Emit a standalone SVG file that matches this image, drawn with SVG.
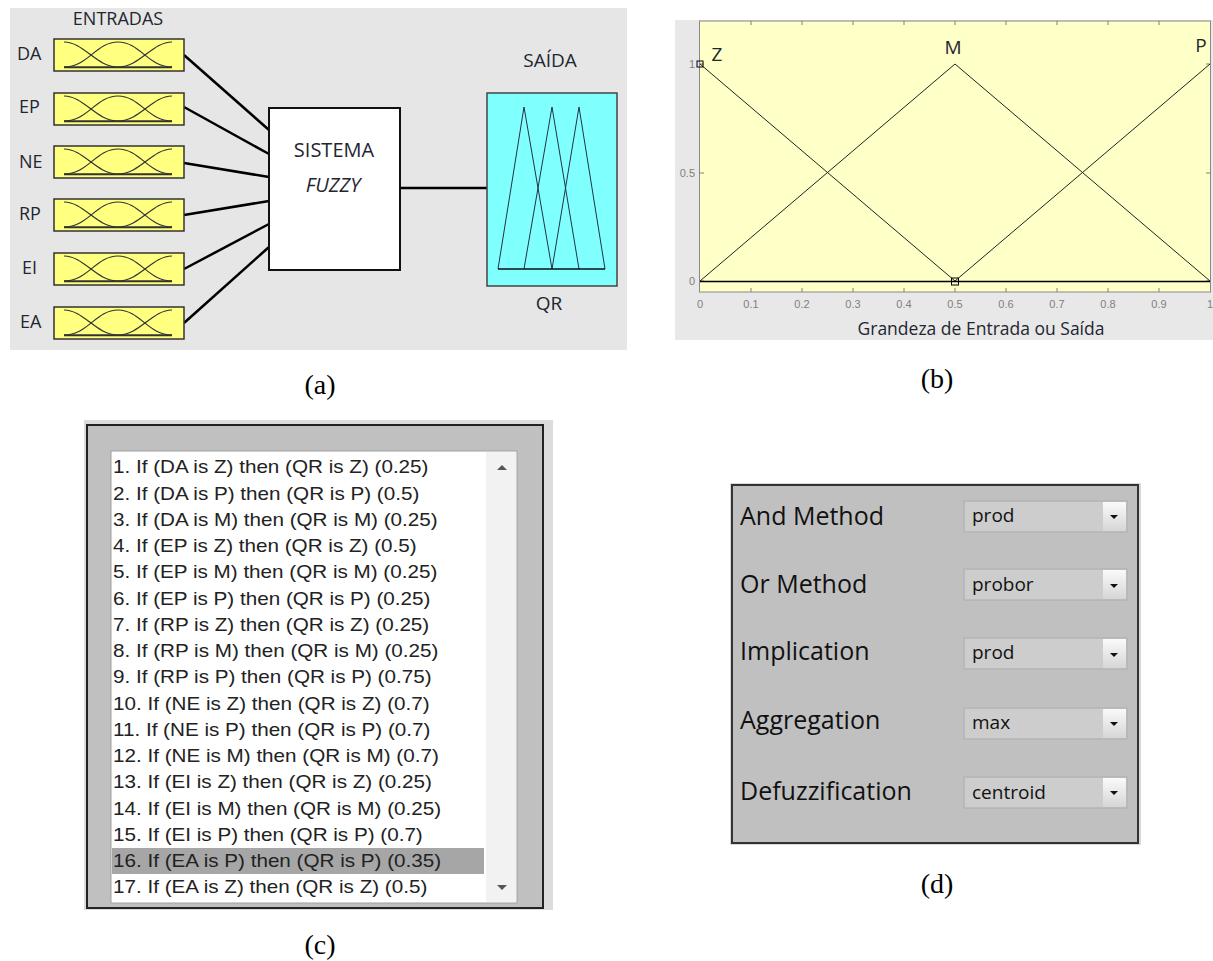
<svg xmlns="http://www.w3.org/2000/svg" xmlns:xlink="http://www.w3.org/1999/xlink" width="1213" height="961" viewBox="0 0 1213 961">
<style>
.cal{font-family:"Open Sans","Liberation Sans",sans-serif;fill:#1e2630}
.ari{font-family:"Liberation Sans",Arial,sans-serif}
.cap{font-family:"Liberation Serif","Times New Roman",serif;font-size:28px;fill:#000;text-anchor:middle}
.inbox{fill:#ffff80;stroke:#333;stroke-width:1.5}
.mf{fill:none;stroke:#333;stroke-width:1.2}
.conn{stroke:#000;stroke-width:2.5;fill:none}
.tick{stroke:#808080;stroke-width:1}
.tl{font-family:"Liberation Sans",Arial,sans-serif;font-size:11px;fill:#808080}
.rule{font-family:"Liberation Sans",Arial,sans-serif;font-size:18px;fill:#222}
.dd{fill:#cdcdcd;stroke:#b4b4b4;stroke-width:1.5}
.ddb{fill:url(#btn)}
.lab{font-family:"Open Sans","Liberation Sans",sans-serif;font-size:25px;fill:#111}
.val{font-family:"Open Sans","Liberation Sans",sans-serif;font-size:19px;fill:#111}
</style>
<defs>
<linearGradient id="btn" x1="0" y1="0" x2="0" y2="1">
<stop offset="0" stop-color="#fafafa"/>
<stop offset="1" stop-color="#d6d6d6"/>
</linearGradient>
<g id="inbox">
<rect class="inbox" x="0" y="0" width="130" height="32"/>
<path class="mf" d="M10,3 C30,3 42,28 64,28"/>
<path class="mf" d="M10,28 C34,28 42,3 64,3 C86,3 94,28 118,28"/>
<path class="mf" d="M64,28 C86,28 98,3 118,3"/>
<path d="M10,28.3 H118" stroke="#333" stroke-width="2"/>
</g>
<path id="darr" d="M-4,-2 H4 L0,2 Z" fill="#111"/>
</defs>

<!-- Panel (a) -->
<rect x="10" y="8" width="617" height="342" fill="#e6e6e6"/>
<text class="cal" x="118" y="25" font-size="18" text-anchor="middle">ENTRADAS</text>

<g id="connectors">
<line class="conn" x1="184" y1="55" x2="269" y2="130"/>
<line class="conn" x1="184" y1="107" x2="269" y2="154"/>
<line class="conn" x1="184" y1="163" x2="269" y2="177"/>
<line class="conn" x1="184" y1="215" x2="269" y2="201"/>
<line class="conn" x1="184" y1="269" x2="269" y2="224"/>
<line class="conn" x1="184" y1="323" x2="269" y2="247"/>
<line class="conn" x1="400" y1="188" x2="487" y2="188"/>
</g>

<g id="node-DA"><use xlink:href="#inbox" x="54" y="39"/><text class="cal" x="17" y="60" font-size="18">DA</text></g>
<g id="node-EP"><use xlink:href="#inbox" x="54" y="93"/><text class="cal" x="19" y="113" font-size="18">EP</text></g>
<g id="node-NE"><use xlink:href="#inbox" x="54" y="146"/><text class="cal" x="19" y="168" font-size="18">NE</text></g>
<g id="node-RP"><use xlink:href="#inbox" x="54" y="199"/><text class="cal" x="19" y="220" font-size="18">RP</text></g>
<g id="node-EI"><use xlink:href="#inbox" x="54" y="253"/><text class="cal" x="22" y="274" font-size="18">EI</text></g>
<g id="node-EA"><use xlink:href="#inbox" x="54" y="307"/><text class="cal" x="20" y="328" font-size="18">EA</text></g>

<g id="node-sistema">
<rect x="269" y="108" width="131" height="162" fill="#fff" stroke="#111" stroke-width="2"/>
<text class="cal" x="334" y="157" font-size="20" text-anchor="middle">SISTEMA</text>
<text class="cal" x="333" y="192" font-size="20" font-style="italic" text-anchor="middle">FUZZY</text>
</g>

<g id="node-QR">
<text class="cal" x="550" y="67" font-size="19" text-anchor="middle">SAÍDA</text>
<rect x="487" y="93" width="130" height="193" fill="#80ffff" stroke="#444" stroke-width="1.5"/>
<path d="M498,269 L524,107 L552,269 M524,269 L552,107 L579,269 M552,269 L579,107 L605,269" fill="none" stroke="#234" stroke-width="1"/>
<path d="M498,269 H605" stroke="#111" stroke-width="1.5"/>
<text class="cal" x="549" y="310" font-size="19" text-anchor="middle">QR</text>
</g>
<text class="cap" x="320" y="394">(a)</text>

<!-- Panel (b) -->
<g id="plot-b">
<rect x="675" y="20" width="538" height="320" fill="#e8e8e8"/>
<rect x="699.5" y="21" width="511" height="271" fill="#ffffc8" stroke="#888" stroke-width="1"/>
<g class="tick">
<path d="M751,21v4M802,21v4M853,21v4M904,21v4M955,21v4M1006,21v4M1057,21v4M1108,21v4M1159,21v4"/>
<path d="M751,292v-4M802,292v-4M853,292v-4M904,292v-4M955,292v-4M1006,292v-4M1057,292v-4M1108,292v-4M1159,292v-4"/>
<path d="M700,64h4M700,173h4M700,281h4M1210,64h-4M1210,173h-4M1210,281h-4"/>
</g>
<g class="tl" text-anchor="middle">
<text x="700" y="308">0</text><text x="751" y="308">0.1</text><text x="802" y="308">0.2</text><text x="853" y="308">0.3</text><text x="904" y="308">0.4</text><text x="955" y="308">0.5</text><text x="1006" y="308">0.6</text><text x="1057" y="308">0.7</text><text x="1108" y="308">0.8</text><text x="1159" y="308">0.9</text><text x="1210" y="308">1</text>
</g>
<g class="tl" text-anchor="end">
<text x="695" y="68">1</text><text x="695" y="177">0.5</text><text x="695" y="285">0</text>
</g>
<path d="M700,64 L955,281 M700,281 L955,64 L1210,281 M955,281 L1210,64" fill="none" stroke="#222" stroke-width="1"/>
<path d="M700,281.5 H1210" stroke="#000" stroke-width="1.5"/>
<rect x="697" y="61" width="6" height="6" fill="none" stroke="#000" stroke-width="1"/>
<rect x="951.5" y="278" width="7" height="7" fill="none" stroke="#000" stroke-width="1"/>
<text class="cal" x="717" y="61" font-size="19" text-anchor="middle">Z</text>
<text class="cal" x="953" y="54" font-size="19" text-anchor="middle">M</text>
<text class="cal" x="1201" y="52" font-size="19" text-anchor="middle">P</text>
<text class="cal" x="981" y="335" font-size="17.5" text-anchor="middle">Grandeza de Entrada ou Saída</text>
</g>
<text class="cap" x="937" y="388">(b)</text>

<!-- Panel (c) -->
<g id="rules-c">
<rect x="84" y="420" width="469" height="490" fill="#dcdcdc"/>
<rect x="87" y="425" width="456" height="483" fill="#c0c0c0" stroke="#222" stroke-width="2"/>
<rect x="111" y="451" width="406" height="452" fill="#fff" stroke="#a0a0a0" stroke-width="1"/>
<rect x="486" y="452" width="30" height="450" fill="#f2f2f2"/>
<path d="M497,470 L502,465 L507,470 Z" fill="#555"/>
<path d="M497,885 L502,890 L507,885 Z" fill="#555"/>
<rect x="112" y="848" width="372" height="26" fill="#a6a6a6"/>
<g class="rule" transform="translate(113,0) scale(1.148,1)">
<text x="0" y="473.5">1. If (DA is Z) then (QR is Z) (0.25)</text>
<text x="0" y="499.8">2. If (DA is P) then (QR is P) (0.5)</text>
<text x="0" y="526">3. If (DA is M) then (QR is M) (0.25)</text>
<text x="0" y="552.3">4. If (EP is Z) then (QR is Z) (0.5)</text>
<text x="0" y="578.5">5. If (EP is M) then (QR is M) (0.25)</text>
<text x="0" y="604.8">6. If (EP is P) then (QR is P) (0.25)</text>
<text x="0" y="631">7. If (RP is Z) then (QR is Z) (0.25)</text>
<text x="0" y="657.3">8. If (RP is M) then (QR is M) (0.25)</text>
<text x="0" y="683.5">9. If (RP is P) then (QR is P) (0.75)</text>
<text x="0" y="709.8">10. If (NE is Z) then (QR is Z) (0.7)</text>
<text x="0" y="736">11. If (NE is P) then (QR is P) (0.7)</text>
<text x="0" y="762.3">12. If (NE is M) then (QR is M) (0.7)</text>
<text x="0" y="788.5">13. If (EI is Z) then (QR is Z) (0.25)</text>
<text x="0" y="814.8">14. If (EI is M) then (QR is M) (0.25)</text>
<text x="0" y="841">15. If (EI is P) then (QR is P) (0.7)</text>
<text x="0" y="867.3">16. If (EA is P) then (QR is P) (0.35)</text>
<text x="0" y="893.5">17. If (EA is Z) then (QR is Z) (0.5)</text>
</g>
</g>
<text class="cap" x="320" y="954">(c)</text>

<!-- Panel (d) -->
<g id="methods-d">
<rect x="730" y="483" width="411" height="362" fill="#d8d8d8"/>
<rect x="732" y="485" width="406" height="358" fill="#c0c0c0" stroke="#333" stroke-width="2"/>
<text class="lab" x="740" y="525">And Method</text>
<text class="lab" x="740" y="593">Or Method</text>
<text class="lab" x="740" y="660">Implication</text>
<text class="lab" x="740" y="729">Aggregation</text>
<text class="lab" x="740" y="800">Defuzzification</text>
<g>
<rect class="dd" x="964" y="501" width="163" height="31"/>
<rect class="ddb" x="1103" y="502" width="23" height="29"/>
<use xlink:href="#darr" x="1114" y="517"/>
<text class="val" x="972" y="522">prod</text>
</g>
<g>
<rect class="dd" x="964" y="569" width="163" height="31"/>
<rect class="ddb" x="1103" y="570" width="23" height="29"/>
<use xlink:href="#darr" x="1114" y="586"/>
<text class="val" x="972" y="591">probor</text>
</g>
<g>
<rect class="dd" x="964" y="638" width="163" height="31"/>
<rect class="ddb" x="1103" y="639" width="23" height="29"/>
<use xlink:href="#darr" x="1114" y="655"/>
<text class="val" x="972" y="659">prod</text>
</g>
<g>
<rect class="dd" x="964" y="708" width="163" height="31"/>
<rect class="ddb" x="1103" y="709" width="23" height="29"/>
<use xlink:href="#darr" x="1114" y="724"/>
<text class="val" x="972" y="729">max</text>
</g>
<g>
<rect class="dd" x="964" y="777" width="163" height="31"/>
<rect class="ddb" x="1103" y="778" width="23" height="29"/>
<use xlink:href="#darr" x="1114" y="793"/>
<text class="val" x="972" y="799">centroid</text>
</g>
</g>
<text class="cap" x="937" y="893">(d)</text>
</svg>
